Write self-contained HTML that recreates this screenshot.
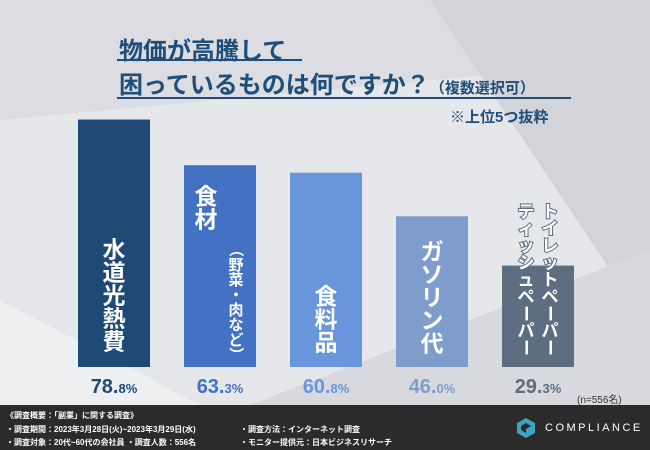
<!DOCTYPE html>
<html><head><meta charset="utf-8">
<style>
body{margin:0;width:650px;height:450px;overflow:hidden;font-family:"Liberation Sans","Noto Sans CJK JP",sans-serif;}
#root{position:relative;width:650px;height:450px;background:#e6e7ea;overflow:hidden}
.t{position:absolute;color:#1f4e79;font-weight:bold;white-space:nowrap}
.foot{position:absolute;left:0;top:405px;width:650px;height:45px;background:#2b2b2b;color:#fff;font-size:8px;font-weight:bold}
.foot div{position:absolute;white-space:nowrap}
</style></head><body>
<div id="root">
<svg width="650" height="450" style="position:absolute;left:0;top:0">
<polygon points="0,0 650,0 650,60 0,120" fill="#dcdde2"/>
<polygon points="430,0 650,0 650,330" fill="#d3d4da"/>
<polygon points="250,405 650,250 650,405" fill="#d8d9de"/>
<polygon points="0,300 200,405 0,405" fill="#eeeff1"/>
</svg>
<div class="t" style="left:119px;top:31px;font-size:24px">物価が高騰して</div>
<div style="position:absolute;left:117px;top:59px;width:185px;height:2px;background:#1f4e79"></div>
<div class="t" style="left:119px;top:65px;font-size:24px">困っているものは何ですか？<span style="font-size:15px">（複数選択可）</span></div>
<div style="position:absolute;left:117px;top:97px;width:454px;height:2px;background:#1f4e79"></div>
<div class="t" style="left:450px;top:106px;font-size:15px">※上位5つ抜粋</div>
<svg id="chart" width="650" height="450" style="position:absolute;left:0;top:0"></svg>
<div class="t" style="left:577px;top:391px;font-size:10px;font-weight:normal;color:#333">(n=556名)</div>
<div class="foot">
<div style="left:6px;top:5px">《調査概要：「副業」に関する調査》</div>
<div style="left:6px;top:19px">・調査期間：2023年3月28日(火)~2023年3月29日(水)</div>
<div style="left:6px;top:32px">・調査対象：20代~60代の会社員 ・調査人数：556名</div>
<div style="left:240px;top:19px">・調査方法：インターネット調査</div>
<div style="left:240px;top:32px">・モニター提供元：日本ビジネスリサーチ</div>
<svg style="position:absolute;left:516px;top:12px" width="20" height="22"><polygon points="10,1 19,6 19,16 10,21 1,16 1,6" fill="#3fa4c4"/><polygon points="10,6 15,9 10,12 10,16 5,13 5,9" fill="#2b2b2b"/></svg>
<div style="left:545px;top:17px;font-size:11px;letter-spacing:2.5px;font-weight:normal">COMPLIANCE</div>
</div>
</div>
<script>
const categories=["水道光熱費","食材","食料品","ガソリン代","トイレットペーパー"];
const values=[78.8,63.3,60.8,46.0,29.3];
const valueLabels=["78.","63.","60.","46.","29."];
const valueDecimals=["8%","3%","8%","0%","3%"];
const colors=["#1e4a75","#4371c4","#6895dc","#7e9dcc","#5d6e80"];
const baseY=367, barW=72, x0=78, step=106;
function yScale(v){return baseY-(15+2.95*v);}
function xScale(i){return x0+i*step;}
const svg=document.getElementById('chart');
const NS="http://www.w3.org/2000/svg";
function txt(x,y,s,size,fill,name){const t=document.createElementNS(NS,'text');t.setAttribute('x',x);t.setAttribute('y',y);t.setAttribute('font-size',size);t.setAttribute('fill',fill);t.setAttribute('font-weight','bold');t.setAttribute('text-anchor','middle');t.textContent=s;


svg.appendChild(t);return t;}
function vtext(cx,top,s,size,name,stroke){
  [...s].forEach((c,k)=>{const t=txt(cx,top+k*size*1.0+size*0.85,c,size,'#fff',name);
    if(c==='ー'||c==='（'||c==='）'){t.setAttribute('transform','rotate(90 '+cx+' '+(top+k*size+size*0.5)+')');t.setAttribute('y',top+k*size+size*0.5+size*0.35);}
    if(stroke){t.setAttribute('stroke','#5d6e80');t.setAttribute('stroke-width','2');t.setAttribute('paint-order','stroke');}});
}
values.forEach((v,i)=>{
  const r=document.createElementNS(NS,'rect');
  r.setAttribute('x',xScale(i));r.setAttribute('y',yScale(v));r.setAttribute('width',barW);r.setAttribute('height',baseY-yScale(v));r.setAttribute('fill',colors[i]);
  
  
  svg.appendChild(r);
  const t=txt(xScale(i)+barW/2,393,'',20,colors[i],'value-label-'+(i+1));
  const a=document.createElementNS(NS,'tspan');a.textContent=valueLabels[i];t.appendChild(a);
  const b=document.createElementNS(NS,'tspan');b.setAttribute('font-size','13');b.textContent=valueDecimals[i];t.appendChild(b);
});
const cx=i=>xScale(i)+barW/2;
vtext(cx(0),238,"水道光熱費",23,'category-label-1');
vtext(cx(1)-14,185,"食材",23,'category-label-2a');
vtext(cx(1)+16,242,"（野菜・肉など）",15,'category-label-2b');
vtext(cx(2),285,"食料品",23,'category-label-3');
vtext(cx(3),240,"ガソリン代",23,'category-label-4');
vtext(cx(4)+12,203,"トイレットペーパー",17,'category-label-5a',true);
vtext(cx(4)-12,203,"ティッシュペーパー",17,'category-label-5b',true);
</script>
</body></html>
